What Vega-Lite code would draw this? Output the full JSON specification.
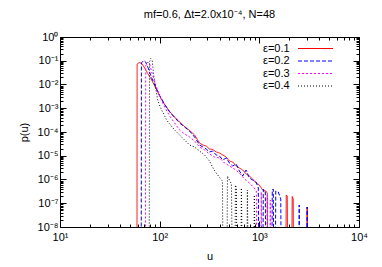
{
  "$schema": "https://vega.github.io/schema/vega-lite/v6.json",
  "width": 299,
  "height": 190,
  "autosize": "none",
  "padding": {"left": 60, "top": 37, "right": 23, "bottom": 40},
  "background": "white",
  "config": {
    "font": "Liberation Sans",
    "view": {"stroke": "black", "strokeWidth": 1},
    "axis": {"grid": false, "domain": false, "tickColor": "black", "labelColor": "black", "labelFontSize": 11, "labelFont": "Liberation Sans", "labelOverlap": false, "labelFlush": false, "labelBound": false, "titleFont": "Liberation Sans", "titleFontSize": 11, "titleFontWeight": "normal", "titleColor": "black"}
  },
  "title": {"text": "mf=0.6, Δt=2.0x10⁻⁴, N=48", "fontSize": 11, "fontWeight": "normal", "font": "Liberation Sans", "offset": 11, "anchor": "middle", "color": "black"},
  "datasets": {
    "d": [
      {"eps":"ε=0.1","u":59.2,"p":1e-10},{"eps":"ε=0.1","u":59.4,"p":0.073},{"eps":"ε=0.1","u":62.4,"p":0.0844},{"eps":"ε=0.1","u":66.1,"p":0.0766},{"eps":"ε=0.1","u":70.8,"p":0.0495},{"eps":"ε=0.1","u":75.9,"p":0.0291},{"eps":"ε=0.1","u":83.2,"p":0.01546},{"eps":"ε=0.1","u":91.2,"p":0.00713},{"eps":"ε=0.1","u":100,"p":0.00328},{"eps":"ε=0.1","u":112.2,"p":0.00144},{"eps":"ε=0.1","u":125.9,"p":0.00073},{"eps":"ε=0.1","u":141.3,"p":0.000428},{"eps":"ε=0.1","u":158.5,"p":0.000264},{"eps":"ε=0.1","u":177.8,"p":0.00017},{"eps":"ε=0.1","u":199.5,"p":0.000116},{"eps":"ε=0.1","u":223.9,"p":7.48e-5},{"eps":"ε=0.1","u":251.2,"p":3.44e-5},{"eps":"ε=0.1","u":271,"p":2.84e-5},{"eps":"ε=0.1","u":293,"p":2.57e-5},{"eps":"ε=0.1","u":316,"p":1.92e-5},{"eps":"ε=0.1","u":341,"p":1.83e-5},{"eps":"ε=0.1","u":369,"p":1.44e-5},{"eps":"ε=0.1","u":398,"p":1.31e-5},{"eps":"ε=0.1","u":429.5,"p":1.08e-5},{"eps":"ε=0.1","u":464,"p":8.86e-6},{"eps":"ε=0.1","u":501,"p":6.01e-6},{"eps":"ε=0.1","u":541,"p":5.46e-6},{"eps":"ε=0.1","u":585,"p":3.7e-6},{"eps":"ε=0.1","u":631,"p":3.05e-6},{"eps":"ε=0.1","u":681,"p":2.51e-6},{"eps":"ε=0.1","u":736,"p":1.71e-6},{"eps":"ε=0.1","u":794,"p":1.4e-6},{"eps":"ε=0.1","u":857,"p":1.05e-6},{"eps":"ε=0.1","u":927,"p":7.12e-7},{"eps":"ε=0.1","u":1000,"p":5.87e-7},{"eps":"ε=0.1","u":1079,"p":3.61e-7},{"eps":"ε=0.1","u":1161,"p":3.28e-7},{"eps":"ε=0.1","u":1202,"p":2.7e-7},{"eps":"ε=0.1","u":1216,"p":1e-10},{"eps":"ε=0.1","u":1841,"p":1e-10},{"eps":"ε=0.1","u":1862,"p":2.23e-7},{"eps":"ε=0.1","u":1905,"p":2.02e-7},{"eps":"ε=0.1","u":1928,"p":1e-10},{"eps":"ε=0.1","u":2113,"p":1e-10},{"eps":"ε=0.1","u":2138,"p":1.92e-7},{"eps":"ε=0.1","u":2188,"p":1.51e-7},{"eps":"ε=0.1","u":2213,"p":1e-10},{"eps":"ε=0.1","u":2985,"p":1e-10},{"eps":"ε=0.1","u":3020,"p":6.95e-8},{"eps":"ε=0.1","u":3055,"p":1e-10},

      {"eps":"ε=0.2","u":65.3,"p":1e-10},{"eps":"ε=0.2","u":65.6,"p":0.0804},{"eps":"ε=0.2","u":69.2,"p":0.1024},{"eps":"ε=0.2","u":72.4,"p":0.0886},{"eps":"ε=0.2","u":76.7,"p":0.0495},{"eps":"ε=0.2","u":83.2,"p":0.01877},{"eps":"ε=0.2","u":91.2,"p":0.00785},{"eps":"ε=0.2","u":100,"p":0.00344},{"eps":"ε=0.2","u":112.2,"p":0.00144},{"eps":"ε=0.2","u":125.9,"p":6.95e-4},{"eps":"ε=0.2","u":141.3,"p":4.08e-4},{"eps":"ε=0.2","u":158.5,"p":2.39e-4},{"eps":"ε=0.2","u":177.8,"p":1.62e-4},{"eps":"ε=0.2","u":199.5,"p":1.1e-4},{"eps":"ε=0.2","u":223.9,"p":6.16e-5},{"eps":"ε=0.2","u":251.2,"p":2.84e-5},{"eps":"ε=0.2","u":271,"p":2.34e-5},{"eps":"ε=0.2","u":293,"p":1.92e-5},{"eps":"ε=0.2","u":316,"p":1.44e-5},{"eps":"ε=0.2","u":341,"p":1.585e-5},{"eps":"ε=0.2","u":369,"p":1.08e-5},{"eps":"ε=0.2","u":398,"p":9.76e-6},{"eps":"ε=0.2","u":429.5,"p":6.63e-6},{"eps":"ε=0.2","u":464,"p":8.04e-6},{"eps":"ε=0.2","u":501,"p":4.95e-6},{"eps":"ε=0.2","u":541,"p":3.7e-6},{"eps":"ε=0.2","u":585,"p":4.5e-6},{"eps":"ε=0.2","u":631,"p":2.28e-6},{"eps":"ε=0.2","u":681,"p":1.4e-6},{"eps":"ε=0.2","u":736,"p":2.51e-6},{"eps":"ε=0.2","u":794,"p":1.16e-6},{"eps":"ε=0.2","u":857,"p":9.53e-7},{"eps":"ε=0.2","u":927,"p":7.85e-7},{"eps":"ε=0.2","u":977,"p":4.39e-7},{"eps":"ε=0.2","u":988.6,"p":1e-10},{"eps":"ε=0.2","u":1084,"p":1e-10},{"eps":"ε=0.2","u":1096,"p":3.98e-7},{"eps":"ε=0.2","u":1148,"p":2.98e-7},{"eps":"ε=0.2","u":1161,"p":1e-10},{"eps":"ε=0.2","u":1334,"p":1e-10},{"eps":"ε=0.2","u":1349,"p":3.61e-7},{"eps":"ε=0.2","u":1380,"p":3.98e-7},{"eps":"ε=0.2","u":1396,"p":1e-10},{"eps":"ε=0.2","u":1445,"p":1e-10},{"eps":"ε=0.2","u":1462,"p":3.28e-7},{"eps":"ε=0.2","u":1549,"p":2.98e-7},{"eps":"ε=0.2","u":1641,"p":1.51e-7},{"eps":"ε=0.2","u":1660,"p":1e-10},{"eps":"ε=0.2","u":2483,"p":1e-10},{"eps":"ε=0.2","u":2512,"p":8.44e-8},{"eps":"ε=0.2","u":2541,"p":1e-10},{"eps":"ε=0.2","u":2985,"p":1e-10},{"eps":"ε=0.2","u":3020,"p":6.95e-8},{"eps":"ε=0.2","u":3055,"p":1e-10},

      {"eps":"ε=0.3","u":71.9,"p":1e-10},{"eps":"ε=0.3","u":72.4,"p":0.0601},{"eps":"ε=0.3","u":75.9,"p":0.0886},{"eps":"ε=0.3","u":79.4,"p":0.073},{"eps":"ε=0.3","u":83.2,"p":0.0336},{"eps":"ε=0.3","u":91.2,"p":0.00953},{"eps":"ε=0.3","u":100,"p":0.00328},{"eps":"ε=0.3","u":112.2,"p":0.001129},{"eps":"ε=0.3","u":125.9,"p":4.72e-4},{"eps":"ε=0.3","u":141.3,"p":2.39e-4},{"eps":"ε=0.3","u":158.5,"p":1.21e-4},{"eps":"ε=0.3","u":177.8,"p":8.23e-5},{"eps":"ε=0.3","u":199.5,"p":6.16e-5},{"eps":"ε=0.3","u":223.9,"p":4.18e-5},{"eps":"ε=0.3","u":251.2,"p":2.34e-5},{"eps":"ε=0.3","u":281.8,"p":1.75e-5},{"eps":"ε=0.3","u":316,"p":1.19e-5},{"eps":"ε=0.3","u":354.8,"p":8.86e-6},{"eps":"ε=0.3","u":398,"p":8.04e-6},{"eps":"ε=0.3","u":446.7,"p":4.95e-6},{"eps":"ε=0.3","u":501,"p":3.7e-6},{"eps":"ε=0.3","u":562.3,"p":2.77e-6},{"eps":"ε=0.3","u":631,"p":1.88e-6},{"eps":"ε=0.3","u":707.9,"p":1.05e-6},{"eps":"ε=0.3","u":794,"p":7.12e-7},{"eps":"ε=0.3","u":891,"p":4.39e-7},{"eps":"ε=0.3","u":933,"p":3.28e-7},{"eps":"ε=0.3","u":944,"p":1e-10},{"eps":"ε=0.3","u":1035,"p":1e-10},{"eps":"ε=0.3","u":1047,"p":2.98e-7},{"eps":"ε=0.3","u":1059,"p":1e-10},{"eps":"ε=0.3","u":1189,"p":1e-10},{"eps":"ε=0.3","u":1202,"p":2.23e-7},{"eps":"ε=0.3","u":1216,"p":1e-10},{"eps":"ε=0.3","u":1274,"p":1e-10},{"eps":"ε=0.3","u":1288,"p":1.37e-7},{"eps":"ε=0.3","u":1303,"p":1e-10},

      {"eps":"ε=0.4","u":78.5,"p":1e-10},{"eps":"ε=0.4","u":79.1,"p":0.0886},{"eps":"ε=0.4","u":81.3,"p":0.1244},{"eps":"ε=0.4","u":84.1,"p":0.1075},{"eps":"ε=0.4","u":87.1,"p":0.0251},{"eps":"ε=0.4","u":91.2,"p":0.00713},{"eps":"ε=0.4","u":95.5,"p":0.002225},{"eps":"ε=0.4","u":102.3,"p":0.001024},{"eps":"ε=0.4","u":109.6,"p":5.73e-4},{"eps":"ε=0.4","u":117.5,"p":3.2e-4},{"eps":"ε=0.4","u":125.9,"p":2.17e-4},{"eps":"ε=0.4","u":141.3,"p":1.21e-4},{"eps":"ε=0.4","u":158.5,"p":7.48e-5},{"eps":"ε=0.4","u":177.8,"p":4.6e-5},{"eps":"ε=0.4","u":199.5,"p":2.84e-5},{"eps":"ε=0.4","u":223.9,"p":2.34e-5},{"eps":"ε=0.4","u":251.2,"p":1.585e-5},{"eps":"ε=0.4","u":281.8,"p":1.08e-5},{"eps":"ε=0.4","u":316,"p":6.01e-6},{"eps":"ε=0.4","u":338.8,"p":3.36e-6},{"eps":"ε=0.4","u":363.1,"p":2.07e-6},{"eps":"ε=0.4","u":389,"p":1.4e-6},{"eps":"ε=0.4","u":416.9,"p":9.53e-7},{"eps":"ε=0.4","u":426.6,"p":8.65e-7},{"eps":"ε=0.4","u":431.5,"p":1e-10},{"eps":"ε=0.4","u":473.2,"p":1e-10},{"eps":"ε=0.4","u":478.6,"p":1.4e-6},{"eps":"ε=0.4","u":501,"p":9.53e-7},{"eps":"ε=0.4","u":524.8,"p":6.46e-7},{"eps":"ε=0.4","u":537,"p":1e-10},{"eps":"ε=0.4","u":568.9,"p":1e-10},{"eps":"ε=0.4","u":575.4,"p":5.87e-7},{"eps":"ε=0.4","u":588.8,"p":4.39e-7},{"eps":"ε=0.4","u":595.7,"p":1e-10},{"eps":"ε=0.4","u":653.1,"p":1e-10},{"eps":"ε=0.4","u":660.7,"p":4.39e-7},{"eps":"ε=0.4","u":676.1,"p":1e-10},{"eps":"ε=0.4","u":749.9,"p":1e-10},{"eps":"ε=0.4","u":758.6,"p":3.61e-7},{"eps":"ε=0.4","u":776.2,"p":1e-10},{"eps":"ε=0.4","u":881,"p":1e-10},{"eps":"ε=0.4","u":891.3,"p":2.23e-7},{"eps":"ε=0.4","u":912,"p":1e-10}
    ]
  },
  "data": {"name": "d"},
  "layer": [
    {
      "mark": {"type": "line", "clip": true, "strokeWidth": 1},
      "encoding": {
        "x": {"field": "u", "type": "quantitative", "scale": {"type": "log", "domain": [10, 10000]},
          "axis": {"orient": "bottom", "title": "u", "titlePadding": 5,
            "values": [10,20,30,40,50,60,70,80,90,100,200,300,400,500,600,700,800,900,1000,2000,3000,4000,5000,6000,7000,8000,9000,10000],
            "labelExpr": "datum.value == 10 ? '10¹' : datum.value == 100 ? '10²' : datum.value == 1000 ? '10³' : datum.value == 10000 ? '10⁴' : ''",
            "tickSize": {"condition": {"test": "datum.value == 10 || datum.value == 100 || datum.value == 1000 || datum.value == 10000", "value": -6}, "value": -3},
            "labelPadding": 10}},
        "y": {"field": "p", "type": "quantitative", "scale": {"type": "log", "domain": [1e-8, 1]},
          "axis": {"orient": "left", "title": "p(u)", "titlePadding": 8,
            "values": [1e-8,2e-8,3e-8,4e-8,5e-8,6e-8,7e-8,8e-8,9e-8,1e-7,2e-7,3e-7,4e-7,5e-7,6e-7,7e-7,8e-7,9e-7,1e-6,2e-6,3e-6,4e-6,5e-6,6e-6,7e-6,8e-6,9e-6,1e-5,2e-5,3e-5,4e-5,5e-5,6e-5,7e-5,8e-5,9e-5,1e-4,2e-4,3e-4,4e-4,5e-4,6e-4,7e-4,8e-4,9e-4,0.001,0.002,0.003,0.004,0.005,0.006,0.007,0.008,0.009,0.01,0.02,0.03,0.04,0.05,0.06,0.07,0.08,0.09,0.1,0.2,0.3,0.4,0.5,0.6,0.7,0.8,0.9,1],
            "labelExpr": "datum.value == 1 ? '10⁰' : datum.value == 0.1 ? '10⁻¹' : datum.value == 0.01 ? '10⁻²' : datum.value == 0.001 ? '10⁻³' : datum.value == 0.0001 ? '10⁻⁴' : datum.value == 0.00001 ? '10⁻⁵' : datum.value == 0.000001 ? '10⁻⁶' : datum.value == 0.0000001 ? '10⁻⁷' : datum.value == 0.00000001 ? '10⁻⁸' : ''",
            "tickSize": {"condition": {"test": "datum.value == 1 || datum.value == 0.1 || datum.value == 0.01 || datum.value == 0.001 || datum.value == 0.0001 || datum.value == 0.00001 || datum.value == 0.000001 || datum.value == 0.0000001 || datum.value == 0.00000001", "value": -6}, "value": -3},
            "labelPadding": 8}},
        "color": {"field": "eps", "type": "nominal",
          "scale": {"domain": ["ε=0.1","ε=0.2","ε=0.3","ε=0.4"], "range": ["#ff0000","#0000ff","#ff00ff","#000000"]},
          "legend": {"title": null, "orient": "none", "legendX": 249, "legendY": 5, "symbolType": "M-3,0H3", "symbolSize": 136, "symbolStrokeWidth": 1, "labelAlign": "right", "labelOffset": -32.4, "labelFontSize": 11, "labelFont": "Liberation Sans", "labelColor": "black", "rowPadding": 0.5, "padding": 0}},
        "strokeDash": {"field": "eps", "type": "nominal",
          "scale": {"domain": ["ε=0.1","ε=0.2","ε=0.3","ε=0.4"], "range": [[1,0],[4,2],[2,2],[1,2]]},
          "legend": {"title": null, "orient": "none", "legendX": 249, "legendY": 5, "symbolType": "M-3,0H3", "symbolSize": 136, "symbolStrokeWidth": 1, "labelAlign": "right", "labelOffset": -32.4, "labelFontSize": 11, "labelFont": "Liberation Sans", "labelColor": "black", "rowPadding": 0.5, "padding": 0}}
      }
    },
    {
      "mark": {"type": "line", "opacity": 0},
      "encoding": {
        "x": {"field": "u", "type": "quantitative",
          "axis": {"orient": "top", "title": null, "labels": false,
            "values": [10,20,30,40,50,60,70,80,90,100,200,300,400,500,600,700,800,900,1000,2000,3000,4000,5000,6000,7000,8000,9000,10000],
            "tickSize": {"condition": {"test": "datum.value == 10 || datum.value == 100 || datum.value == 1000 || datum.value == 10000", "value": -6}, "value": -3}}},
        "y": {"field": "p", "type": "quantitative",
          "axis": {"orient": "right", "title": null, "labels": false,
            "values": [1e-8,2e-8,3e-8,4e-8,5e-8,6e-8,7e-8,8e-8,9e-8,1e-7,2e-7,3e-7,4e-7,5e-7,6e-7,7e-7,8e-7,9e-7,1e-6,2e-6,3e-6,4e-6,5e-6,6e-6,7e-6,8e-6,9e-6,1e-5,2e-5,3e-5,4e-5,5e-5,6e-5,7e-5,8e-5,9e-5,1e-4,2e-4,3e-4,4e-4,5e-4,6e-4,7e-4,8e-4,9e-4,0.001,0.002,0.003,0.004,0.005,0.006,0.007,0.008,0.009,0.01,0.02,0.03,0.04,0.05,0.06,0.07,0.08,0.09,0.1,0.2,0.3,0.4,0.5,0.6,0.7,0.8,0.9,1],
            "tickSize": {"condition": {"test": "datum.value == 1 || datum.value == 0.1 || datum.value == 0.01 || datum.value == 0.001 || datum.value == 0.0001 || datum.value == 0.00001 || datum.value == 0.000001 || datum.value == 0.0000001 || datum.value == 0.00000001", "value": -6}, "value": -3}}}
      }
    }
  ],
  "resolve": {"axis": {"x": "independent", "y": "independent"}}
}
